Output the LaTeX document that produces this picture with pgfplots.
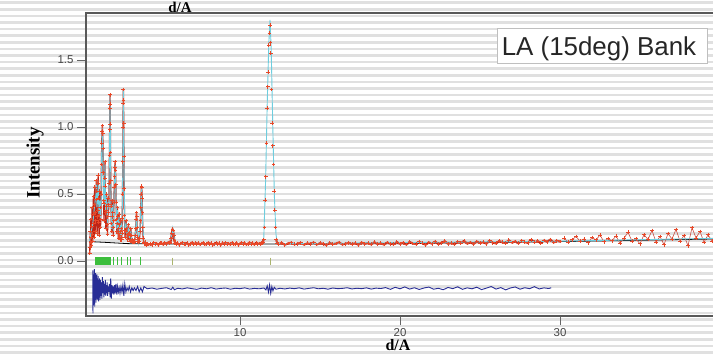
\documentclass[border=0pt]{standalone}
\usepackage{pgfplots}
\pgfplotsset{compat=1.18}
\usepackage{fontspec}
\setmainfont{Liberation Serif}
\newfontfamily\lsans{Liberation Sans}

\definecolor{obsmark}{RGB}{232,72,40}
\definecolor{obsline}{RGB}{190,36,22}
\definecolor{calccol}{RGB}{110,205,222}
\definecolor{diffcol}{RGB}{40,45,150}
\definecolor{refcol}{RGB}{60,190,60}
\definecolor{reffaint}{RGB}{170,180,110}

\pgfplotsset{
  obsmarks/.style={mark=+, mark size=1.9bp, mark options={obsmark, line width=0.8bp}},
}

\begin{document}
\begin{tikzpicture}
\useasboundingbox (0bp,0bp) rectangle (713bp,355bp);
\clip (0bp,0bp) rectangle (713bp,355bp);
% ruled paper
\begin{scope}[x=1bp,y=1bp]
\fill[white] (0,0) rectangle (713,355);
\foreach \k in {0,...,54}{
  \fill[black!12] (0,{352.3-6.6*\k-1.3}) rectangle (713,{352.3-6.6*\k+1.3});
}
\end{scope}

\begin{axis}[
  at={(86bp,342bp)}, anchor=north west,
  scale only axis, width=630bp, height=303bp,
  xmin=0.375, xmax=39.75, ymin=-0.41, ymax=1.851,
  axis line style={black!65, line width=1.5bp},
  xtick={10,20,30}, ytick={0,0.5,1,1.5},
  xtick pos=bottom, ytick pos=left,
  tick align=outside, major tick length=9bp,
  tick style={black!60, line width=0.9bp},
  /pgf/number format/assume math mode=true,
  ticklabel style={font=\lsans\fontsize{11.5}{11.5}\selectfont, text=black!72},
  yticklabel style={/pgf/number format/fixed, /pgf/number format/fixed zerofill,
    /pgf/number format/precision=1},
  clip=true,
]

% background
\addplot[black, line width=0.8bp] coordinates {
 (0.6,0.145) (1.5,0.14) (3,0.13) (5,0.127) (12,0.127) (20,0.13) (30,0.145) (39.75,0.165)};

% observed, short d
\addplot[obsline, line width=1.3bp, line join=round, obsmarks] table {
0.60 0.06
0.62 0.10
0.64 0.22
0.66 0.14
0.68 0.31
0.70 0.18
0.72 0.12
0.74 0.26
0.76 0.40
0.78 0.20
0.80 0.15
0.82 0.35
0.84 0.48
0.86 0.28
0.88 0.18
0.90 0.42
0.92 0.55
0.94 0.36
0.96 0.22
0.98 0.30
1.00 0.46
1.02 0.60
1.04 0.52
1.06 0.33
1.08 0.21
1.10 0.38
1.12 0.58
1.14 0.64
1.16 0.47
1.18 0.29
1.20 0.19
1.22 0.34
1.24 0.52
1.26 0.40
1.28 0.25
1.30 0.31
1.32 0.50
1.34 0.72
1.36 0.88
1.38 0.97
1.40 1.01
1.42 0.95
1.44 0.84
1.46 0.66
1.48 0.45
1.50 0.30
1.52 0.43
1.54 0.62
1.56 0.74
1.58 0.56
1.60 0.36
1.62 0.24
1.64 0.38
1.66 0.50
1.68 0.41
1.70 0.27
1.72 0.20
1.74 0.33
1.76 0.47
1.78 0.36
1.80 0.42
1.82 0.58
1.84 0.79
1.855 0.98
1.865 1.14
1.875 1.24
1.885 1.17
1.895 1.02
1.905 0.81
1.92 0.60
1.94 0.41
1.96 0.28
1.98 0.22
2.00 0.33
2.02 0.45
2.04 0.36
2.06 0.25
2.08 0.19
2.10 0.30
2.12 0.44
2.14 0.55
2.16 0.63
2.18 0.70
2.20 0.74
2.22 0.68
2.24 0.57
2.26 0.44
2.28 0.31
2.30 0.22
2.32 0.28
2.34 0.40
2.36 0.33
2.38 0.21
2.40 0.17
2.42 0.24
2.44 0.35
2.46 0.27
2.48 0.19
2.50 0.16
2.52 0.22
2.54 0.30
2.56 0.24
2.58 0.18
2.60 0.16
2.62 0.21
2.64 0.32
2.66 0.50
2.675 0.74
2.69 1.00
2.70 1.18
2.71 1.28
2.72 1.20
2.73 1.03
2.745 0.78
2.76 0.54
2.78 0.34
2.80 0.23
2.82 0.18
2.85 0.22
2.88 0.30
2.91 0.24
2.94 0.18
2.97 0.16
3.00 0.20
3.03 0.27
3.06 0.21
3.09 0.16
3.12 0.15
3.15 0.19
3.18 0.24
3.21 0.19
3.24 0.15
3.27 0.14
3.30 0.16
3.33 0.14
3.36 0.15
3.39 0.14
3.42 0.16
3.45 0.19
3.48 0.24
3.51 0.31
3.53 0.36
3.55 0.33
3.57 0.25
3.60 0.18
3.63 0.15
3.66 0.14
3.69 0.15
3.72 0.17
3.75 0.22
3.78 0.30
3.80 0.40
3.82 0.50
3.84 0.56
3.86 0.55
3.88 0.47
3.90 0.36
3.92 0.25
3.95 0.17
3.98 0.14
4.02 0.13
};

% observed, flat stretch below the strong line
\addplot[obsline, line width=2.1bp, line join=round, obsmarks] table {
4.02 0.13
4.06 0.14
4.10 0.13
4.15 0.12
4.20 0.13
4.30 0.124
4.4 0.128
4.5 0.122
4.6 0.136
4.7 0.126
4.8 0.131
4.9 0.121
5.0 0.134
5.1 0.132
5.2 0.123
5.3 0.136
5.4 0.128
5.5 0.139
5.6 0.133
5.65 0.142
5.70 0.168
5.74 0.205
5.78 0.238
5.82 0.228
5.86 0.188
5.90 0.152
5.95 0.134
6.0 0.127
6.1 0.133
6.2 0.122
6.3 0.131
6.4 0.137
6.5 0.126
6.6 0.129
6.7 0.135
6.8 0.121
6.9 0.130
7.0 0.138
7.1 0.125
7.2 0.132
7.3 0.127
7.4 0.134
7.5 0.123
7.6 0.131
7.7 0.136
7.8 0.124
7.9 0.129
8.0 0.137
8.1 0.126
8.2 0.133
8.3 0.122
8.4 0.130
8.5 0.135
8.6 0.127
8.7 0.132
8.8 0.121
8.9 0.134
9.0 0.128
9.1 0.136
9.2 0.125
9.3 0.131
9.4 0.123
9.5 0.137
9.6 0.129
9.7 0.126
9.8 0.134
9.9 0.122
10.0 0.131
10.1 0.136
10.2 0.127
10.3 0.133
10.4 0.124
10.5 0.130
10.6 0.138
10.7 0.126
10.8 0.132
10.9 0.123
11.0 0.135
11.1 0.128
11.2 0.131
11.3 0.125
11.36 0.133
11.42 0.136
11.48 0.160
};

% observed, strong line
\addplot[only marks, obsmarks] table {
11.53 0.250
11.57 0.455
11.61 0.630
11.65 0.880
11.69 1.140
11.73 1.300
11.77 1.410
11.80 1.610
11.84 1.700
11.87 1.760
11.90 1.630
11.93 1.550
11.97 1.280
12.01 1.030
12.05 0.860
12.09 0.720
12.13 0.520
12.17 0.380
12.22 0.250
};

% observed, long d
\addplot[obsline, line width=2.1bp, line join=round, obsmarks] table {
12.27 0.160
12.32 0.134
12.4 0.127
12.6 0.134
12.8 0.122
13.0 0.131
13.2 0.137
13.4 0.125
13.6 0.130
13.8 0.136
14.0 0.123
14.2 0.132
14.4 0.128
14.6 0.138
14.8 0.124
15.0 0.133
15.2 0.129
15.4 0.121
15.6 0.135
15.8 0.127
16.0 0.131
16.2 0.139
16.4 0.124
16.6 0.130
16.8 0.136
17.0 0.126
17.2 0.133
17.4 0.122
17.6 0.137
17.8 0.129
18.0 0.134
18.2 0.125
18.4 0.140
18.6 0.128
18.8 0.133
19.0 0.123
19.2 0.138
19.4 0.130
19.6 0.126
19.8 0.141
20.0 0.129
20.2 0.136
20.4 0.124
20.6 0.142
20.8 0.131
21.0 0.127
21.2 0.144
21.4 0.133
21.6 0.122
21.8 0.139
22.0 0.130
22.2 0.145
22.4 0.127
22.6 0.137
22.8 0.148
23.0 0.129
23.2 0.135
23.4 0.126
23.6 0.143
23.8 0.134
24.0 0.150
24.2 0.131
24.4 0.139
24.6 0.128
24.8 0.146
25.0 0.135
25.2 0.141
25.4 0.130
25.6 0.152
25.8 0.137
26.0 0.132
26.2 0.149
26.4 0.140
26.6 0.134
26.8 0.155
27.0 0.138
27.2 0.146
27.4 0.133
27.6 0.151
27.8 0.142
28.0 0.136
28.2 0.158
28.4 0.141
28.6 0.149
28.8 0.135
29.0 0.153
29.2 0.144
29.4 0.160
29.6 0.139
29.8 0.151
30.0 0.146
};

% observed, far range
\addplot[obsline!80, line width=0.6bp, obsmarks] table {
30.25 0.172
30.5 0.141
30.75 0.158
31.0 0.183
31.25 0.149
31.5 0.165
31.75 0.137
32.0 0.176
32.25 0.158
32.5 0.194
32.75 0.143
33.0 0.168
33.25 0.152
33.5 0.187
33.75 0.132
34.0 0.171
34.25 0.214
34.5 0.149
34.75 0.166
35.0 0.128
35.25 0.197
35.5 0.162
35.75 0.228
36.0 0.141
36.25 0.183
36.5 0.122
36.75 0.205
37.0 0.165
37.25 0.236
37.5 0.148
37.75 0.190
38.0 0.115
38.25 0.249
38.5 0.172
38.75 0.221
39.0 0.139
39.25 0.196
39.5 0.150
39.75 0.212
};

% calculated profile
\addplot[calccol, line width=0.9bp] coordinates {
(0.60,0.15) (0.70,0.22) (0.80,0.28) (0.90,0.40) (1.00,0.50) (1.02,0.57)
(1.06,0.40) (1.10,0.45) (1.14,0.60) (1.18,0.35) (1.24,0.45) (1.28,0.30)
(1.32,0.45) (1.36,0.85) (1.40,0.99) (1.44,0.82) (1.48,0.42) (1.52,0.45)
(1.56,0.72) (1.60,0.38) (1.66,0.48) (1.72,0.25) (1.76,0.44) (1.80,0.40)
(1.84,0.78) (1.875,1.23) (1.90,0.90) (1.94,0.40) (1.98,0.24) (2.02,0.42)
(2.08,0.22) (2.14,0.53) (2.20,0.72) (2.26,0.45) (2.30,0.24) (2.34,0.38)
(2.40,0.18) (2.44,0.33) (2.50,0.17) (2.54,0.28) (2.60,0.17) (2.66,0.48)
(2.71,1.29) (2.75,0.72) (2.80,0.24) (2.88,0.28) (2.96,0.16) (3.03,0.25)
(3.10,0.16) (3.18,0.22) (3.26,0.14) (3.40,0.15) (3.48,0.23) (3.53,0.35)
(3.58,0.23) (3.66,0.14) (3.76,0.26) (3.85,0.56) (3.92,0.26) (4.00,0.14)
(4.20,0.13) (5.60,0.13) (5.70,0.17) (5.80,0.245) (5.90,0.16) (6.00,0.13)
(11.40,0.128) (11.48,0.15) (11.60,0.60) (11.70,1.17) (11.80,1.62)
(11.875,1.80) (11.95,1.58) (12.05,1.00) (12.15,0.48) (12.25,0.20)
(12.33,0.13) (30.00,0.148) (39.75,0.17)
};

% reflection positions
\addplot[only marks, mark=|, mark size=4bp, mark options={refcol, line width=0.9bp}]
coordinates {
(0.94,0) (0.96,0) (0.98,0) (1.00,0) (1.02,0) (1.04,0) (1.06,0) (1.08,0)
(1.10,0) (1.12,0) (1.14,0) (1.16,0) (1.18,0) (1.20,0) (1.22,0) (1.24,0)
(1.26,0) (1.28,0) (1.30,0) (1.32,0) (1.34,0) (1.36,0) (1.38,0) (1.40,0)
(1.42,0) (1.44,0) (1.46,0) (1.48,0) (1.50,0) (1.52,0) (1.54,0) (1.56,0)
(1.58,0) (1.60,0) (1.62,0) (1.64,0) (1.66,0) (1.68,0) (1.70,0) (1.72,0)
(1.74,0) (1.76,0) (1.78,0) (1.80,0) (1.82,0) (1.84,0) (1.86,0) (1.88,0)
(1.90,0) (2.06,0) (2.31,0) (2.62,0) (2.94,0) (3.13,0) (3.75,0)
};
\addplot[only marks, mark=|, mark size=3.5bp, mark options={reffaint, line width=0.8bp}]
coordinates {(5.80,0) (11.88,0)};

% difference curve
\addplot[diffcol, line width=0.9bp] coordinates {
(0.80,-0.07) (0.81,-0.39) (0.82,-0.10) (0.84,-0.33) (0.86,-0.12) (0.88,-0.30)
(0.90,-0.06) (0.92,-0.34) (0.94,-0.14) (0.96,-0.28) (0.98,-0.09) (1.00,-0.31)
(1.02,-0.12) (1.04,-0.27) (1.06,-0.10) (1.08,-0.29) (1.10,-0.15) (1.12,-0.26)
(1.14,-0.11) (1.16,-0.30) (1.18,-0.14) (1.20,-0.25) (1.22,-0.13) (1.25,-0.29)
(1.28,-0.14) (1.31,-0.26) (1.34,-0.16) (1.37,-0.28) (1.40,-0.12) (1.43,-0.24)
(1.46,-0.15) (1.49,-0.27) (1.52,-0.17) (1.55,-0.25) (1.58,-0.14) (1.61,-0.26)
(1.64,-0.18) (1.67,-0.24) (1.70,-0.16) (1.73,-0.26) (1.76,-0.19) (1.80,-0.23)
(1.84,-0.17) (1.88,-0.27) (1.92,-0.13) (1.96,-0.28) (2.00,-0.18) (2.04,-0.24)
(2.08,-0.19) (2.12,-0.25) (2.16,-0.18) (2.20,-0.24) (2.25,-0.17) (2.30,-0.25)
(2.35,-0.19) (2.40,-0.23) (2.45,-0.20) (2.50,-0.24) (2.56,-0.19) (2.62,-0.23)
(2.68,-0.18) (2.74,-0.26) (2.80,-0.17) (2.87,-0.23) (2.94,-0.20) (3.01,-0.22)
(3.08,-0.19) (3.16,-0.23) (3.24,-0.20) (3.32,-0.22) (3.40,-0.20) (3.50,-0.22)
(3.60,-0.19) (3.70,-0.23) (3.80,-0.20) (3.90,-0.23) (4.00,-0.19) (4.2,-0.207)
(4.5,-0.201) (4.8,-0.210) (5.1,-0.204) (5.4,-0.199) (5.7,-0.212) (5.8,-0.195)
(5.9,-0.214) (6.1,-0.203) (6.4,-0.208) (6.7,-0.200) (7.0,-0.206) (7.3,-0.211)
(7.6,-0.202) (7.9,-0.207) (8.2,-0.199) (8.5,-0.209) (8.8,-0.204) (9.1,-0.201)
(9.4,-0.210) (9.7,-0.203) (10.0,-0.206) (10.3,-0.200) (10.6,-0.209) (10.9,-0.204)
(11.2,-0.207) (11.5,-0.201) (11.62,-0.215) (11.70,-0.185) (11.78,-0.232)
(11.85,-0.178) (11.92,-0.240) (11.99,-0.190) (12.06,-0.222) (12.14,-0.196)
(12.25,-0.210) (12.5,-0.203) (12.8,-0.208) (13.1,-0.202) (13.4,-0.206)
(13.7,-0.200) (14.0,-0.209) (14.3,-0.204) (14.6,-0.199) (14.9,-0.207)
(15.2,-0.203) (15.5,-0.210) (15.8,-0.201) (16.1,-0.206) (16.4,-0.204)
(16.7,-0.199) (17.0,-0.208) (17.3,-0.203) (17.6,-0.206) (17.9,-0.200)
(18.2,-0.209) (18.5,-0.202) (18.8,-0.205) (19.1,-0.198) (19.4,-0.211)
(19.7,-0.196) (20.0,-0.207) (20.3,-0.193) (20.6,-0.209) (20.9,-0.199)
(21.2,-0.212) (21.5,-0.201) (21.8,-0.194) (22.1,-0.210) (22.4,-0.203)
(22.7,-0.214) (23.0,-0.197) (23.3,-0.206) (23.6,-0.192) (23.9,-0.211)
(24.2,-0.200) (24.5,-0.207) (24.8,-0.195) (25.1,-0.213) (25.4,-0.202)
(25.7,-0.190) (26.0,-0.209) (26.3,-0.198) (26.6,-0.215) (26.9,-0.201)
(27.2,-0.193) (27.5,-0.210) (27.8,-0.199) (28.1,-0.206) (28.4,-0.191)
(28.7,-0.208) (29.0,-0.200) (29.3,-0.205) (29.45,-0.199)
};
\end{axis}

\begin{scope}[x=1bp,y=1bp]
% bank label
\filldraw[fill=white, draw=black!25, line width=0.5bp] (497,292) rectangle (707,327);
\node[anchor=base, inner sep=0pt, font=\lsans\fontsize{26}{26}\selectfont, text=black!85]
  at (599,300) {LA (15deg) Bank};
% axis titles
\node[rotate=90, font=\bfseries\fontsize{19}{19}\selectfont] at (35,192) {Intensity};
\node[anchor=base, inner sep=0pt, font=\bfseries\fontsize{16}{16}\selectfont] at (398,4.5) {d/A};
\node[anchor=base, inner sep=0pt, font=\bfseries\fontsize{15}{15}\selectfont] at (180,343) {d/A};
\end{scope}
\end{tikzpicture}
\end{document}
